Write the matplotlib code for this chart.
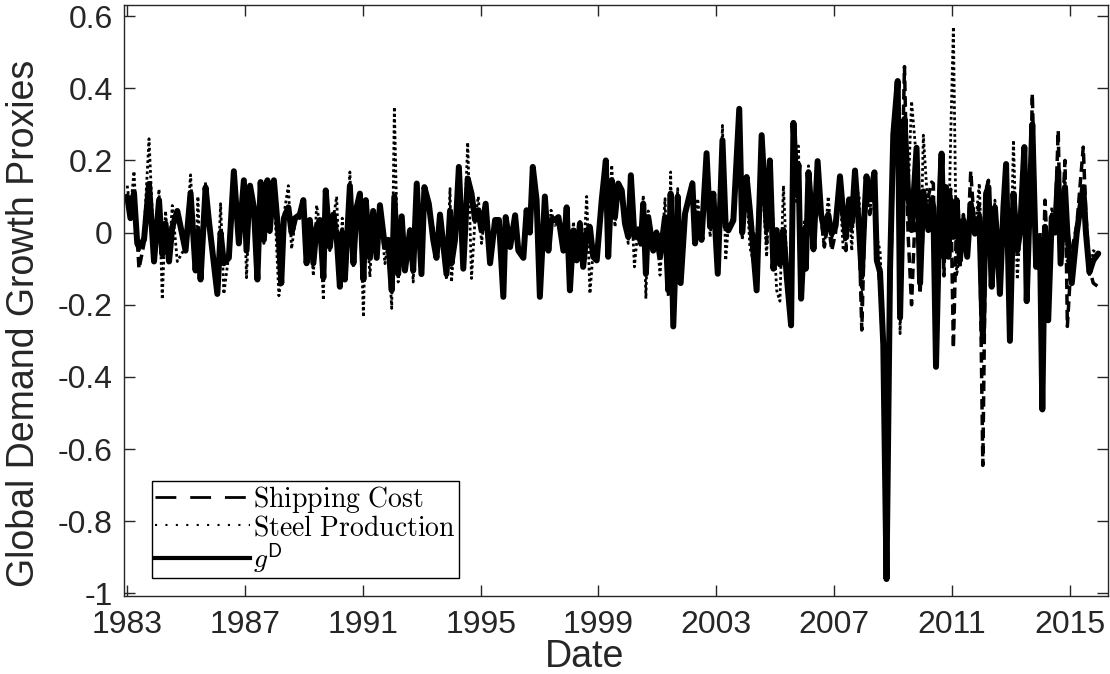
import matplotlib
matplotlib.use('Agg')
import matplotlib.pyplot as plt
from matplotlib.lines import Line2D

plt.rcParams['font.family'] = ['Liberation Sans', 'DejaVu Sans']
plt.rcParams['mathtext.fontset'] = 'cm'
plt.rcParams['axes.unicode_minus'] = False

# decimal years (roughly monthly)
dates = [
    1983.00, 1983.11, 1983.23, 1983.34, 1983.40, 1983.57, 1983.74, 1983.91, 1984.08, 1984.19,
    1984.30, 1984.42, 1984.53, 1984.70, 1984.98, 1985.15, 1985.32, 1985.40, 1985.49, 1985.66,
    1985.77, 1986.06, 1986.17, 1986.28, 1986.45, 1986.62, 1986.79, 1986.96, 1987.05, 1987.17,
    1987.30, 1987.42, 1987.53, 1987.64, 1987.76, 1987.84, 1987.98, 1988.15, 1988.23, 1988.32,
    1988.47, 1988.58, 1988.70, 1988.86, 1988.98, 1989.09, 1989.20, 1989.32, 1989.43, 1989.54,
    1989.66, 1989.74, 1989.88, 1990.00, 1990.11, 1990.22, 1990.30, 1990.39, 1990.56, 1990.68,
    1990.79, 1990.90, 1991.02, 1991.10, 1991.24, 1991.35, 1991.47, 1991.58, 1991.75, 1991.86,
    1991.98, 1992.07, 1992.20, 1992.32, 1992.43, 1992.60, 1992.71, 1992.83, 1992.99, 1993.09,
    1993.24, 1993.39, 1993.50, 1993.62, 1993.84, 1993.96,
    1994.01, 1994.13, 1994.26, 1994.41, 1994.56, 1994.69, 1994.81, 1994.92, 1995.03, 1995.17,
    1995.32, 1995.49, 1995.62, 1995.77, 1995.85, 1996.00, 1996.17, 1996.28, 1996.45, 1996.56,
    1996.67, 1996.77, 1996.90, 1997.01, 1997.18, 1997.30, 1997.39, 1997.52, 1997.64, 1997.81,
    1997.92, 1998.03, 1998.15, 1998.26, 1998.37, 1998.48, 1998.60, 1998.71, 1998.82, 1998.94,
    1999.11, 1999.25,
    1999.33, 1999.45, 1999.56, 1999.67, 1999.79, 1999.90, 2000.01, 2000.10, 2000.22, 2000.35,
    2000.44, 2000.52, 2000.61, 2000.69, 2000.86, 2000.97, 2001.09, 2001.26, 2001.37, 2001.45,
    2001.54, 2001.69, 2001.79, 2001.94, 2002.19, 2002.28, 2002.37, 2002.50, 2002.67, 2002.79,
    2002.90, 2003.05, 2003.21, 2003.32, 2003.41, 2003.58, 2003.78, 2003.88, 2004.03, 2004.14,
    2004.37, 2004.54, 2004.71, 2004.82,
    2004.94, 2005.05, 2005.16, 2005.28, 2005.39, 2005.54, 2005.62, 2005.73, 2005.79, 2005.88,
    2005.99, 2006.04, 2006.13, 2006.24, 2006.30, 2006.44, 2006.56, 2006.67, 2006.80, 2006.92,
    2007.05, 2007.20, 2007.31, 2007.40, 2007.51, 2007.60, 2007.71, 2007.85, 2007.94, 2008.03,
    2008.10, 2008.21, 2008.37, 2008.45, 2008.56, 2008.67, 2008.78, 2008.90, 2009.01, 2009.16,
    2009.24, 2009.39, 2009.51, 2009.63, 2009.80, 2009.92, 2010.03, 2010.20, 2010.31,
    2010.37, 2010.46, 2010.60, 2010.65, 2010.73, 2010.80, 2010.88, 2010.96, 2011.05, 2011.16,
    2011.27, 2011.39, 2011.52, 2011.64, 2011.78, 2011.93, 2012.05, 2012.16, 2012.24, 2012.35,
    2012.46, 2012.52, 2012.63, 2012.75, 2012.84, 2012.97, 2013.09, 2013.22, 2013.31, 2013.46,
    2013.54, 2013.65, 2013.73, 2013.86, 2013.99, 2014.07, 2014.16, 2014.27, 2014.39, 2014.50,
    2014.61, 2014.69, 2014.84, 2014.92, 2015.07, 2015.24, 2015.46, 2015.55, 2015.67, 2015.80,
    2015.97,
]

gd = [
    0.10, 0.04, 0.11, -0.03, -0.04, -0.02, 0.135, -0.08, 0.09, -0.06,
    0.025, -0.08, 0.015, 0.06, -0.05, 0.11, -0.105, 0.005, -0.13, 0.125,
    0.035, -0.17, 0.0, -0.085, -0.07, 0.17, -0.03, 0.145, -0.05, 0.13,
    0.07, -0.13, 0.14, -0.02, 0.145, 0.005, 0.145, -0.02, -0.14, 0.04,
    0.07, 0.0, 0.04, 0.05, 0.09, -0.085, 0.035, -0.085, 0.015, 0.035,
    -0.125, 0.117, -0.04, 0.05, -0.01, -0.15, 0.0, -0.13, 0.13, -0.085,
    0.07, 0.108, -0.13, 0.09, -0.07, 0.06, -0.07, 0.076, -0.04, -0.02,
    -0.16, 0.10, -0.115, 0.045, -0.105, 0.006, -0.105, 0.136, -0.115, 0.126,
    0.08, -0.02, -0.07, 0.05, -0.115, 0.06,
    -0.085, -0.02, 0.182, -0.10, 0.15, 0.108, 0.035, 0.062, 0.006, 0.08,
    -0.085, 0.035, 0.035, -0.178, 0.043, -0.04, 0.048, -0.05, -0.07, 0.062,
    0.0, 0.182, 0.09, -0.178, 0.10, -0.05, 0.035, 0.035, 0.043, -0.05,
    0.07, -0.16, 0.006, -0.077, 0.025, -0.095, 0.0, 0.015, -0.067, -0.077,
    0.09, 0.20,
    -0.067, 0.145, 0.043, 0.136, 0.117, 0.025, -0.012, 0.159, -0.012, 0.006,
    -0.03, 0.08, -0.114, 0.043, -0.05, 0.0, -0.067, 0.043, -0.16, 0.108,
    -0.26, 0.10, -0.14, 0.053, 0.136, -0.03, 0.053, -0.02, 0.22, 0.016,
    0.108, -0.114, 0.256, 0.016, 0.006, 0.034, 0.343, 0.0, 0.154, 0.062,
    -0.16, 0.27, 0.016, 0.20,
    -0.10, 0.007, -0.088, 0.007, -0.12, -0.257, 0.304, 0.114, 0.188, -0.183,
    0.007, -0.10, 0.167, 0.05, -0.046, 0.198, 0.05, 0.007, 0.05, -0.003,
    0.018, 0.156, 0.05, -0.013, 0.092, 0.028, 0.172, 0.007, -0.12, 0.05,
    0.156, 0.092, 0.167, -0.077, -0.109, -0.31, -0.96, -0.10, 0.272, 0.42,
    -0.236, 0.315, 0.114, 0.007, 0.235, -0.14, 0.114, 0.007, 0.092,
    0.07, -0.372, 0.126, 0.219, -0.067, 0.126, -0.067, 0.09, -0.012, 0.09,
    -0.077, 0.034, -0.067, 0.08, -0.003, 0.043, -0.29, 0.108, 0.126, -0.15,
    0.07, 0.0, -0.17, 0.07, 0.19, -0.30, 0.108, -0.05, 0.0, 0.237,
    -0.19, 0.10, 0.30, -0.095, -0.02, -0.49, 0.016, -0.243, 0.043, 0.0,
    0.17, -0.086, 0.126, 0.0, -0.14, 0.0, 0.126, 0.0, -0.11, -0.077,
    -0.058,
]

steel = [
    0.13, 0.06, 0.17, -0.01, -0.05, 0.0, 0.26, -0.06, 0.12, -0.185,
    0.06, -0.06, 0.075, -0.08, -0.04, 0.16, -0.095, 0.10, -0.11, 0.14,
    0.02, -0.15, 0.08, -0.17, -0.06, 0.15, -0.02, 0.13, -0.125, 0.11,
    0.06, -0.11, 0.12, -0.03, 0.13, 0.0, 0.12, -0.175, -0.12, 0.05,
    0.13, -0.045, 0.03, 0.06, 0.08, -0.07, 0.02, -0.12, 0.076, 0.02,
    -0.187, 0.10, -0.05, 0.04, 0.10, -0.14, 0.04, -0.12, 0.168, -0.095,
    0.06, 0.09, -0.234, 0.07, -0.123, 0.05, -0.06, 0.07, -0.086, -0.03,
    -0.21, 0.348, -0.137, 0.03, -0.09, 0.01, -0.137, 0.12, -0.10, 0.11,
    0.07, 0.015, -0.06, 0.04, -0.13, 0.122,
    -0.137, 0.0, 0.14, -0.08, 0.25, -0.127, 0.04, 0.10, -0.03, 0.07,
    -0.07, 0.03, 0.02, -0.14, 0.04, -0.03, 0.043, -0.06, -0.05, 0.05,
    0.016, 0.15, 0.07, -0.15, 0.08, -0.03, 0.062, 0.02, 0.03, -0.04,
    0.06, -0.13, 0.03, -0.06, 0.02, -0.08, 0.10, -0.169, -0.05, -0.06,
    0.05, 0.17,
    -0.04, 0.187, 0.016, 0.11, 0.10, 0.03, -0.03, 0.12, -0.095, 0.02,
    -0.04, 0.103, -0.183, 0.06, -0.03, 0.01, -0.118, 0.094, -0.178, 0.168,
    -0.20, 0.122, -0.10, 0.06, 0.145, -0.02, 0.094, -0.03, 0.18, -0.012,
    0.09, -0.09, 0.297, -0.077, 0.02, 0.043, 0.25, -0.02, 0.13, -0.04,
    -0.12, 0.18, -0.067, 0.198,
    0.02, -0.16, -0.19, 0.13, -0.08, -0.18, 0.24, 0.08, 0.24, -0.12,
    0.03, -0.06, 0.185, 0.09, -0.04, 0.15, 0.03, -0.04, 0.10, -0.02,
    0.04, 0.12, -0.05, -0.04, 0.08, -0.05, 0.14, 0.10, -0.20, 0.06,
    0.12, 0.06, 0.14, -0.013, -0.05, -0.25, -0.74, -0.15, 0.20, 0.30,
    -0.28, 0.26, 0.10, 0.364, 0.20, -0.15, 0.27, 0.05, 0.10,
    0.10, -0.20, 0.12, 0.18, -0.03, 0.10, -0.05, 0.27, 0.57, -0.12,
    -0.05, 0.04, -0.04, 0.06, 0.0, 0.136, -0.15, 0.10, 0.14, -0.10,
    0.09, 0.02, -0.12, 0.05, 0.15, -0.20, 0.256, -0.13, 0.0, 0.16,
    -0.12, 0.05, 0.18, -0.06, 0.0, -0.30, 0.02, -0.15, 0.07, 0.01,
    0.12, -0.06, 0.145, -0.10, -0.09, 0.02, 0.10, 0.06, -0.12, -0.05,
    -0.06,
]

ship = [
    0.09, 0.05, 0.10, -0.02, -0.10, -0.03, 0.12, -0.07, 0.08, -0.05,
    0.02, -0.07, 0.02, 0.05, -0.04, 0.10, -0.09, 0.01, -0.12, 0.11,
    0.03, -0.16, 0.01, -0.08, -0.06, 0.16, -0.02, 0.13, -0.04, 0.12,
    0.06, -0.12, 0.13, -0.01, 0.13, 0.01, 0.13, -0.01, -0.13, 0.03,
    0.06, 0.01, 0.04, 0.04, 0.08, -0.07, 0.03, -0.08, 0.02, 0.03,
    -0.11, 0.11, -0.03, 0.05, -0.01, -0.14, 0.01, -0.12, 0.12, -0.08,
    0.06, 0.10, -0.12, 0.08, -0.06, 0.05, -0.06, 0.07, -0.03, -0.02,
    -0.15, 0.09, -0.10, 0.04, -0.10, 0.01, -0.10, 0.12, -0.10, 0.12,
    0.07, -0.01, -0.06, 0.05, -0.10, 0.05,
    -0.08, -0.02, 0.17, -0.09, 0.14, 0.10, 0.04, 0.06, 0.01, 0.07,
    -0.08, 0.03, 0.04, -0.16, 0.04, -0.03, 0.05, -0.05, -0.06, 0.06,
    0.01, 0.17, 0.09, -0.16, 0.09, -0.04, 0.03, 0.04, 0.04, -0.05,
    0.07, -0.14, 0.01, -0.07, 0.03, -0.09, 0.01, 0.02, -0.06, -0.07,
    0.08, 0.19,
    -0.06, 0.13, 0.04, 0.12, 0.11, 0.02, -0.01, 0.14, -0.01, 0.01,
    -0.03, 0.07, -0.10, 0.04, -0.04, 0.0, -0.06, 0.04, -0.14, 0.10,
    -0.22, 0.09, -0.12, 0.05, 0.12, -0.02, 0.05, -0.02, 0.19, 0.02,
    0.10, -0.10, 0.22, 0.02, 0.01, 0.03, 0.29, -0.01, 0.13, 0.05,
    -0.04, 0.23, -0.03, 0.17,
    -0.08, 0.0, -0.07, 0.0, -0.10, -0.22, 0.27, 0.10, 0.16, -0.15,
    0.0, -0.08, 0.14, 0.04, -0.05, 0.17, 0.04, -0.04, 0.03, -0.05,
    0.0, 0.13, 0.04, -0.05, 0.07, 0.0, 0.12, 0.0, -0.27, 0.0,
    0.10, 0.05, 0.12, -0.05, -0.15, -0.35, -0.70, -0.20, 0.20, 0.30,
    -0.10, 0.46, 0.0, -0.20, 0.15, -0.17, 0.03, 0.10, 0.14,
    0.136, -0.30, 0.15, 0.22, -0.12, 0.10, -0.05, 0.12, -0.32, 0.05,
    -0.10, 0.05, -0.05, 0.17, 0.0, 0.08, -0.645, 0.12, 0.145, -0.10,
    0.05, 0.02, -0.13, 0.05, 0.15, -0.13, 0.10, -0.04, 0.03, 0.237,
    -0.10, 0.05, 0.385, -0.05, 0.0, -0.20, 0.09, -0.10, 0.05, 0.02,
    0.283, -0.05, 0.20, -0.26, -0.05, 0.02, 0.237, 0.05, -0.10, -0.14,
    -0.15,
]

xticks = [1983, 1987, 1991, 1995, 1999, 2003, 2007, 2011, 2015]
yticks = [-1, -0.8, -0.6, -0.4, -0.2, 0, 0.2, 0.4, 0.6]
ytick_labels = ['-1', '-0.8', '-0.6', '-0.4', '-0.2', '0', '0.2', '0.4', '0.6']
labels = [r'$\mathrm{Shipping\ Cost}$', r'$\mathrm{Steel\ Production}$', r'$g^{\mathsf{D}}$']

fig = plt.figure(figsize=(11.1, 6.74), dpi=100)
ax = fig.add_axes([0.1117, 0.1157, 0.8865, 0.8776])

ax.plot(dates, ship, color='k', lw=2.5, linestyle=(0, (3, 1.5)))
ax.plot(dates, steel, color='k', lw=2, linestyle=(0, (1, 1)))
ax.plot(dates, gd, color='k', lw=4.3, solid_joinstyle='round', solid_capstyle='round')

ax.set_xlim(1982.89, 2016.3)
ax.set_ylim(-1.007, 0.632)
ax.set_xticks(xticks)
ax.set_yticks(yticks)
ax.set_yticklabels(ytick_labels)

dark = '#262626'
ax.tick_params(direction='in', length=8, width=1, top=True, right=True,
               labelsize=23, colors=dark)
ax.tick_params(axis='x', pad=10)
ax.tick_params(axis='y', pad=8)
for s in ax.spines.values():
    s.set_color(dark)
    s.set_linewidth(1)

ax.set_ylabel('Global Demand Growth Proxies', fontsize=27, color=dark)
ax.yaxis.set_label_coords(-0.083, 0.4615)
ax.set_xlabel('Date', fontsize=27, color=dark)
ax.xaxis.set_label_coords(0.4685, -0.072)

handles = [
    Line2D([], [], color='k', lw=2, linestyle=(0, (7.5, 5))),
    Line2D([], [], color='k', lw=1.5, linestyle=(0, (1, 4))),
    Line2D([], [], color='k', lw=3),
]
leg = ax.legend(handles, labels, loc='lower left', bbox_to_anchor=(0.0285, 0.0304),
                borderaxespad=0, fontsize=20, fancybox=False, edgecolor='k',
                framealpha=1, handlelength=3.4, handletextpad=0.1,
                borderpad=0.12, labelspacing=0.0)
leg.get_frame().set_linewidth(1)

fig.savefig('out.png', dpi=100)
